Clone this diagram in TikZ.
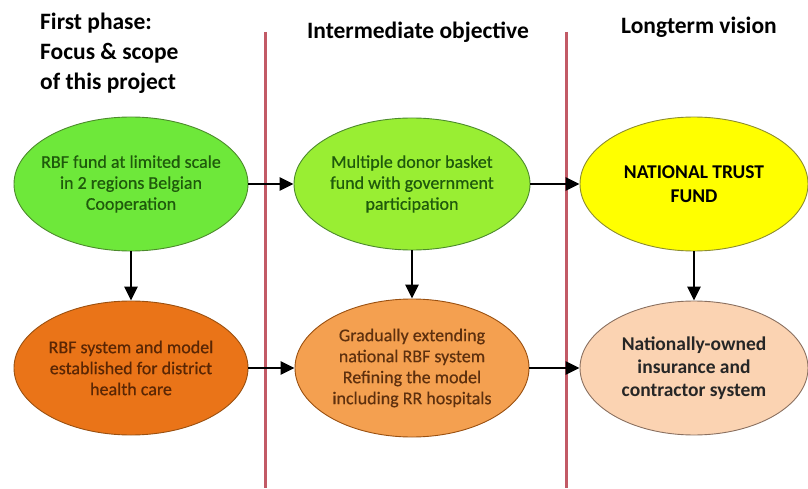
\documentclass[tikz,border=0pt]{standalone}
\usepackage{fontspec}
\setmainfont{Carlito}
\newfontfamily\semibold[FakeBold=0.45]{Carlito}
\usetikzlibrary{arrows.meta,shapes.geometric}

\definecolor{gfill}{HTML}{6EE83A}
\definecolor{gfill2}{HTML}{99EE33}
\definecolor{gtext}{HTML}{1F5A0C}
\definecolor{gedge}{HTML}{4C8A2C}
\definecolor{yfill}{HTML}{FFFF00}
\definecolor{yedge}{HTML}{8C8C30}
\definecolor{ofill}{HTML}{EA7418}
\definecolor{otext}{HTML}{5A2604}
\definecolor{oedge}{HTML}{9A5010}
\definecolor{ofill2}{HTML}{F4A050}
\definecolor{otext2}{HTML}{5E300E}
\definecolor{pfill}{HTML}{FBD3B2}
\definecolor{pedge}{HTML}{8A7060}
\definecolor{divider}{HTML}{C25A66}

\tikzset{
  blob/.style={ellipse, draw, line width=0.9pt, align=center,
    inner xsep=-40pt, inner ysep=-20pt,
    font=\semibold\fontsize{18}{21}\selectfont},
  flow/.style={-{Triangle[length=14pt,width=13pt]}, line width=2.8pt, black},
  heading/.style={font=\bfseries\fontsize{23.5}{30}\selectfont, inner sep=0pt},
  divline/.style={divider, line width=3pt}
}

\begin{document}
\begin{tikzpicture}[x=1pt,y=1pt]
\useasboundingbox (0,0) rectangle (808,488);

% column dividers
\coordinate (d1top) at (265,456);
\coordinate (d1bot) at (265,0);
\coordinate (d2top) at (566,456);
\coordinate (d2bot) at (566,0);
\draw[divline] (d1top) -- (d1bot);
\draw[divline] (d2top) -- (d2bot);

% column headings
\node[heading, anchor=west] (h1a) at (40,465) {First phase:};
\node[heading, anchor=west] (h1b) at (40,435) {Focus \& scope};
\node[heading, anchor=west] (h1c) at (40,405) {of this project};
\node[heading] (h2) at (418,456) {Intermediate objective};
\node[heading] (h3) at (699,461) {Longterm vision};

% top row
\node[blob, fill=gfill, draw=gedge, text=gtext,
      minimum width=234pt, minimum height=134pt] (a1) at (131,304)
  {RBF fund at limited scale\\in 2 regions Belgian\\Cooperation};
\node[blob, fill=gfill2, draw=gedge, text=gtext,
      minimum width=236pt, minimum height=132pt] (a2) at (412,304)
  {Multiple donor basket\\fund with government\\participation};
\node[blob, fill=yfill, draw=yedge, text=black,
      font=\bfseries\fontsize{19.5}{24}\selectfont,
      minimum width=228pt, minimum height=134pt] (a3) at (694,304)
  {NATIONAL TRUST\\FUND};

% bottom row
\node[blob, fill=ofill, draw=oedge, text=otext,
      minimum width=234pt, minimum height=134pt] (b1) at (131,120)
  {RBF system and model\\established for district\\health care};
\node[blob, fill=ofill2, draw=oedge, text=otext2,
      minimum width=234pt, minimum height=138pt] (b2) at (412,120)
  {Gradually extending\\national RBF system\\Refining the model\\including RR hospitals};
\node[blob, fill=pfill, draw=pedge, text=black!85,
      font=\bfseries\fontsize{19.5}{23}\selectfont,
      minimum width=228pt, minimum height=134pt] (b3) at (694,120)
  {Nationally-owned\\insurance and\\contractor system};

% connectors
\draw[flow] (a1.east) -- (a2.west);
\draw[flow] (a2.east) -- (a3.west);
\draw[flow] (b1.east) -- (b2.west);
\draw[flow] (b2.east) -- (b3.west);
\draw[flow] (a1.south) -- (b1.north);
\draw[flow] (a2.south) -- (b2.north);
\draw[flow] (a3.south) -- (b3.north);
\end{tikzpicture}
\end{document}
